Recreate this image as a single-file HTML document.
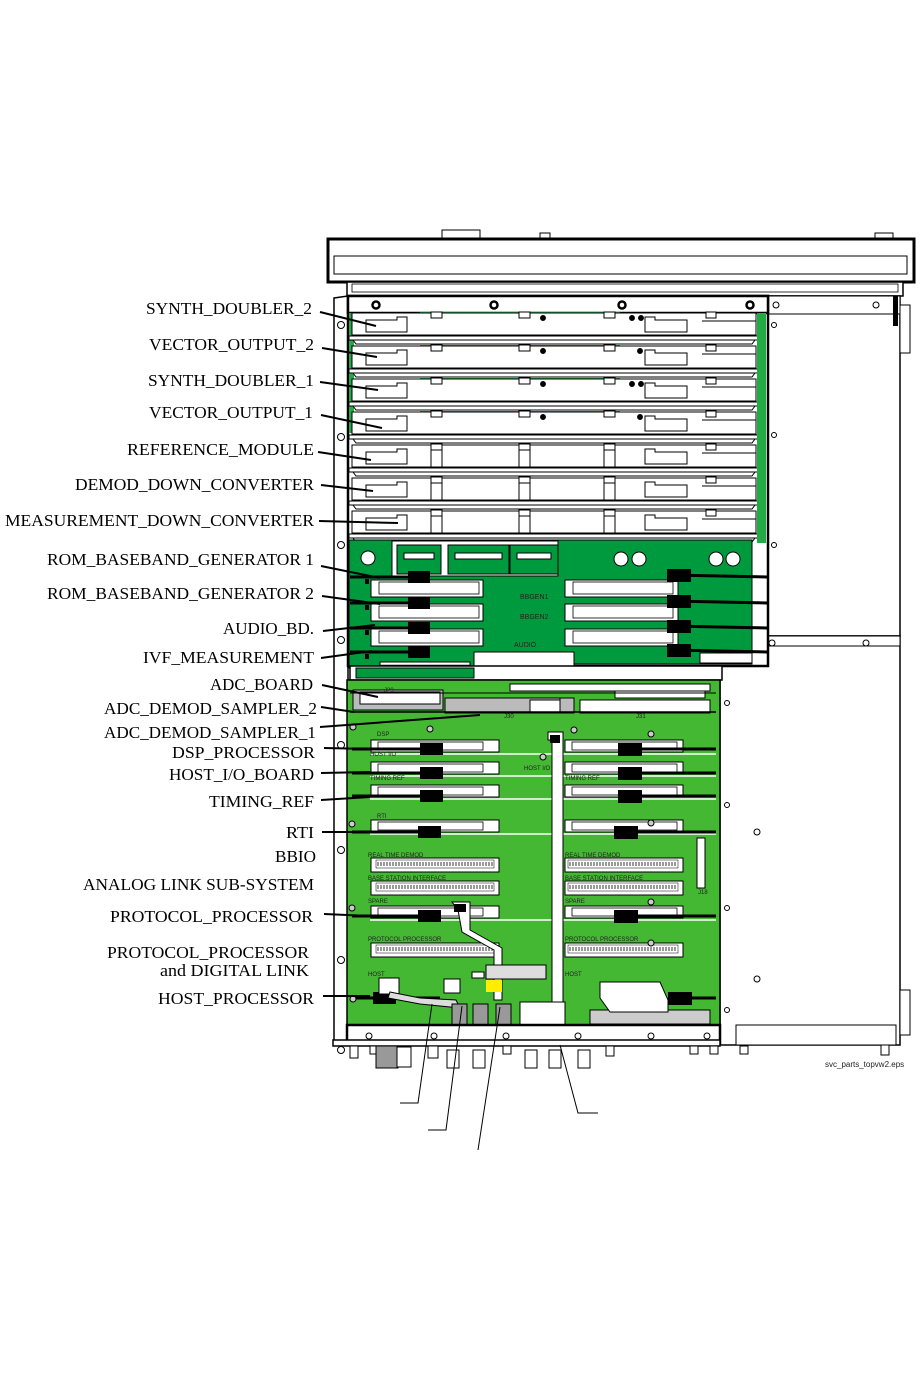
<!DOCTYPE html>
<html><head><meta charset="utf-8"><style>
html,body{margin:0;padding:0;background:#fff;width:920px;height:1380px;overflow:hidden}
svg{display:block}
text.l{font-family:"Liberation Serif",serif;font-size:17px;fill:#000}
text.s{font-family:"Liberation Sans",sans-serif;font-size:6px;fill:#222}
</style></head><body>
<svg id="sv" width="920" height="1380" viewBox="0 0 920 1380" xmlns="http://www.w3.org/2000/svg">
<g id="draw" stroke="#000" fill="none" stroke-width="1"></g>
<g id="labels">
<text class="l" x="146" y="314" textLength="166" lengthAdjust="spacingAndGlyphs">SYNTH_DOUBLER_2</text>
<text class="l" x="149" y="350" textLength="165" lengthAdjust="spacingAndGlyphs">VECTOR_OUTPUT_2</text>
<text class="l" x="148" y="386" textLength="166" lengthAdjust="spacingAndGlyphs">SYNTH_DOUBLER_1</text>
<text class="l" x="149" y="418" textLength="164" lengthAdjust="spacingAndGlyphs">VECTOR_OUTPUT_1</text>
<text class="l" x="127" y="455" textLength="187" lengthAdjust="spacingAndGlyphs">REFERENCE_MODULE</text>
<text class="l" x="75" y="490" textLength="239" lengthAdjust="spacingAndGlyphs">DEMOD_DOWN_CONVERTER</text>
<text class="l" x="5" y="526" textLength="309" lengthAdjust="spacingAndGlyphs">MEASUREMENT_DOWN_CONVERTER</text>
<text class="l" x="47" y="565" textLength="267" lengthAdjust="spacingAndGlyphs">ROM_BASEBAND_GENERATOR 1</text>
<text class="l" x="47" y="599" textLength="267" lengthAdjust="spacingAndGlyphs">ROM_BASEBAND_GENERATOR 2</text>
<text class="l" x="223" y="634" textLength="91" lengthAdjust="spacingAndGlyphs">AUDIO_BD.</text>
<text class="l" x="143" y="663" textLength="171" lengthAdjust="spacingAndGlyphs">IVF_MEASUREMENT</text>
<text class="l" x="210" y="690" textLength="103" lengthAdjust="spacingAndGlyphs">ADC_BOARD</text>
<text class="l" x="104" y="714" textLength="213" lengthAdjust="spacingAndGlyphs">ADC_DEMOD_SAMPLER_2</text>
<text class="l" x="104" y="738" textLength="212" lengthAdjust="spacingAndGlyphs">ADC_DEMOD_SAMPLER_1</text>
<text class="l" x="172" y="758" textLength="143" lengthAdjust="spacingAndGlyphs">DSP_PROCESSOR</text>
<text class="l" x="169" y="780" textLength="145" lengthAdjust="spacingAndGlyphs">HOST_I/O_BOARD</text>
<text class="l" x="209" y="807" textLength="105" lengthAdjust="spacingAndGlyphs">TIMING_REF</text>
<text class="l" x="286" y="838" textLength="28" lengthAdjust="spacingAndGlyphs">RTI</text>
<text class="l" x="275" y="862" textLength="41" lengthAdjust="spacingAndGlyphs">BBIO</text>
<text class="l" x="83" y="890" textLength="231" lengthAdjust="spacingAndGlyphs">ANALOG LINK SUB-SYSTEM</text>
<text class="l" x="110" y="922" textLength="203" lengthAdjust="spacingAndGlyphs">PROTOCOL_PROCESSOR</text>
<text class="l" x="107" y="958" textLength="202" lengthAdjust="spacingAndGlyphs">PROTOCOL_PROCESSOR</text>
<text class="l" x="160" y="976" textLength="149" lengthAdjust="spacingAndGlyphs">and DIGITAL LINK</text>
<text class="l" x="158" y="1004" textLength="156" lengthAdjust="spacingAndGlyphs">HOST_PROCESSOR</text>
<text class="s" x="825" y="1067" style="font-size:8px">svc_parts_topvw2.eps</text>
<text class="s" x="520" y="599" style="font-size:7px">BBGEN1</text>
<text class="s" x="520" y="619" style="font-size:7px">BBGEN2</text>
<text class="s" x="514" y="647" style="font-size:7px">AUDIO</text>
<text class="s" x="377" y="736">DSP</text>
<text class="s" x="370" y="756">HOST I/O</text>
<text class="s" x="524" y="770">HOST I/O</text>
<text class="s" x="370" y="780">TIMING REF</text>
<text class="s" x="565" y="780">TIMING REF</text>
<text class="s" x="377" y="818">RTI</text>
<text class="s" x="368" y="857">REAL TIME DEMOD</text>
<text class="s" x="565" y="857">REAL TIME DEMOD</text>
<text class="s" x="368" y="880">BASE STATION INTERFACE</text>
<text class="s" x="565" y="880">BASE STATION INTERFACE</text>
<text class="s" x="368" y="903">SPARE</text>
<text class="s" x="565" y="903">SPARE</text>
<text class="s" x="368" y="941">PROTOCOL PROCESSOR</text>
<text class="s" x="565" y="941">PROTOCOL PROCESSOR</text>
<text class="s" x="368" y="976">HOST</text>
<text class="s" x="565" y="976">HOST</text>
<text class="s" x="384" y="692">J29</text>
<text class="s" x="504" y="718">J30</text>
<text class="s" x="636" y="718">J31</text>
<text class="s" x="698" y="894">J18</text>
</g>
</svg>
<script>
var g=document.getElementById('draw'),NS='http://www.w3.org/2000/svg';
function el(t,a){var e=document.createElementNS(NS,t);for(var k in a)e.setAttribute(k,a[k]);g.appendChild(e);return e;}
function R(x,y,w,h,f,sw,s){return el('rect',{x:x,y:y,width:w,height:h,fill:f||'none','stroke-width':sw==null?1:sw,stroke:s||'#000'});}
function L(x1,y1,x2,y2,sw,s){return el('line',{x1:x1,y1:y1,x2:x2,y2:y2,'stroke-width':sw||1.5,stroke:s||'#000'});}
function C(x,y,r,f,sw){return el('circle',{cx:x,cy:y,r:r,fill:f||'#fff','stroke-width':sw||1.5});}
function P(d,f,sw){return el('path',{d:d,fill:f||'none','stroke-width':sw||1});}
R(442,230,38,8,'#fff');R(540,233,10,5,'#fff');R(875,233,18,5,'#fff');
R(328,239,586,43,'#fff',3);R(334,256,573,18,'#fff',1);
R(347,282,556,14,'#fff',1.5);R(352,284,546,8,'#fff',0.8);
P('M334,298 L348,296 L348,1043 L334,1043 Z','#fff',1.5);
[325,437,545,640,745,850,960,1050].forEach(function(y){C(341,y,3.5,'#fff',1);});
R(768,296,132,340,'#fff',1.5);R(768,296,132,18,'#fff',1);
C(776,305,3,'#fff',1);C(876,305,3,'#fff',1);
[325,435,545,655].forEach(function(y){C(774,y,2.5,'#fff',1);});
R(893,296,5,30,'#000',0);R(900,305,10,48,'#fff',1);
R(720,636,180,409,'#fff',1.5);R(720,636,180,10,'#fff',1);
C(772,643,3,'#fff',1);C(866,643,3,'#fff',1);
[703,805,908,1010].forEach(function(y){C(727,y,2.5,'#fff',1);});
C(757,832,3,'#fff',1);C(757,979,3,'#fff',1);
R(736,1025,160,20,'#fff',1);R(900,990,10,45,'#fff',1);R(881,1045,8,10,'#fff',1);
R(348,296,420,370,'#fff',2.5);
R(348,296,420,17,'#fff',2.5);
[376,494,622,750].forEach(function(x){C(x,305,3.5,'#fff',2.5);});
R(349,313,5,120,'#22aa44',0);
var tops=[313,346,379,412,445,478,511];
tops.forEach(function(t,i){
 if(i<4){R(420,t-1,200,2,'#22aa44',0);}
 R(352,t,404,22,'#fff',1);
 R(349,t+23,410,4,'#fff',1);
 P('M353,'+(t+27)+' L755,'+(t+27)+' L752,'+(t+31)+' L356,'+(t+31)+' Z','#fff',1);
 P('M366,'+(t+7)+' L397,'+(t+7)+' L397,'+(t+4)+' L407,'+(t+4)+' L407,'+(t+19)+' L366,'+(t+19)+' Z','#fff',1);
 P('M645,'+(t+19)+' L645,'+(t+4)+' L655,'+(t+4)+' L655,'+(t+7)+' L687,'+(t+7)+' L687,'+(t+19)+' Z','#fff',1);
 [437,525,610].forEach(function(x){R(x-6,t-1,11,6,'#fff',1);});
 R(706,t-1,10,6,'#fff',1);
 L(702,t+8,756,t+8,1);
 if(i<4){C(543,t+5,2.2,'#000',0); if(i%2==0){C(632,t+5,2.2,'#000',0);C(641,t+5,2.2,'#000',0);}else{C(640,t+5,2.2,'#000',0);}}
 if(i>=4){[437,525,610].forEach(function(x){L(x-6,t+5,x-6,t+22,1);L(x+5,t+5,x+5,t+22,1);});}
});
R(757,313,9,230,'#22aa44',0);
P('M349,540 L752,540 L752,664 L568,664 L568,668 L470,668 L470,662 L380,662 L380,668 L349,668 Z','#009a3e',1);
R(392,541,166,35,'#fff',1);
[[396,41],[447,58],[509,45]].forEach(function(a){R(a[0]+1,545,a[1]+3,29,'#009a3e',1);R(a[0]+8,553,a[1]-11,6,'#fff',1);});
C(368,558,7,'#fff',1);C(621,559,7,'#fff',1);C(639,559,7,'#fff',1);C(716,559,7,'#fff',1);C(733,559,7,'#fff',1);
[[371,580],[371,604],[371,629]].forEach(function(p){R(p[0],p[1],112,17,'#fff',1);R(p[0]+8,p[1]+2,100,12,'#fff',0.8);});
[[532,580],[532,604],[532,629]].forEach(function(p){R(p[0]+33,p[1],113,17,'#fff',1);R(p[0]+41,p[1]+2,100,12,'#fff',0.8);});
[577,603,628,652].forEach(function(y,i){
 L(350,y,430,y,3);R(408,y-6,22,12,'#000',0);
 L(670,y-2,767,y,3);R(667,y-8,24,13,'#000',0);
 R(365,y+2,4,5,'#000',0);
});
R(474,652,100,14,'#fff',1);R(700,653,52,10,'#fff',1);
C(464,673,3,'#fff',2);C(628,673,3,'#fff',2);
R(350,666,372,14,'#fff',1.5);R(356,668,118,10,'#009a3e',1);
R(347,680,373,345,'#44b833',1.5);
R(353,690,90,20,'#bbb',1);R(360,692,80,12,'#fff',1);
R(445,698,115,15,'#bbb',1);R(530,700,30,12,'#fff',1);
R(560,698,14,15,'#bbb',1);R(580,700,130,13,'#fff',1);
R(615,686,90,12,'#fff',1);R(510,684,200,7,'#fff',1);
L(350,712,716,712,1.5);L(350,693,716,693,1);
var rows=[[740,1],[762,1],[785,1],[820,1],[906,1]];
rows.forEach(function(r){var y=r[0];
 R(371,y,128,12,'#fff',1);R(378,y+2,105,8,'#fff',0.8);
 R(565,y,118,12,'#fff',1);R(572,y+2,105,8,'#fff',0.8);
 L(370,y+14,716,y+14,1.5,'#fff');
});
[[749,420,618],[773,420,618],[796,420,618],[832,418,614],[916,418,614],[998,373,668]].forEach(function(a){
 var y=a[0];L(352,y,440,y,3);R(a[1],y-6,23,12,'#000',0);
 L(a[2],y,716,y,3);R(a[2],y-6,24,13,'#000',0);
});
[860,883,945].forEach(function(y){
 R(371,y-2,128,14,'#fff',1);R(376,y,118,8,'#fff',0.5);
 for(var x=378;x<493;x+=3)L(x,y+2,x,y+6,0.8);
 R(565,y-2,118,14,'#fff',1);R(568,y,110,8,'#fff',0.5);
 for(var x=570;x<676;x+=3)L(x,y+2,x,y+6,0.8);
});
R(697,838,8,50,'#fff',1);
[[353,727],[430,729],[574,730],[543,757],[651,734],[352,824],[651,823],[352,908],[651,902],[651,943],[353,999]].forEach(function(p){C(p[0],p[1],3,'#ccc',1);});
P('M548,732 L563,732 L563,1028 L552,1028 L552,740 L548,740 Z','#fff',1);
R(550,735,10,8,'#000',0);
P('M452,902 L470,902 L470,930 L502,948 L502,1000 L494,1000 L494,950 L462,932 L458,910 Z','#fff',1);
R(454,904,12,8,'#000',0);
R(486,965,60,14,'#ddd',1);R(472,972,12,6,'#fff',1);
R(486,980,16,12,'#ffee00',0);
R(379,978,20,16,'#fff',1);R(444,979,16,14,'#fff',1);
P('M390,992 L420,998 L456,1000 L460,1008 L420,1004 L388,998 Z','#ddd',1);
R(590,1010,120,14,'#ccc',1);P('M600,982 L660,982 L668,1000 L668,1012 L610,1012 L600,998 Z','#fff',1);
R(452,1004,15,22,'#999',1);R(473,1004,15,22,'#999',1);R(496,1004,15,22,'#999',1);
R(520,1002,45,24,'#fff',1);
R(347,1025,373,19,'#fff',2.5);
[369,434,506,578,651,707].forEach(function(x){C(x,1036,3,'#fff',1);});
R(333,1040,387,6,'#fff',1.5);
[[350,1046,8,12],[370,1046,14,8],[376,1046,22,22],[397,1047,14,20],[428,1046,10,12],[447,1050,12,18],[473,1050,12,18],[503,1046,8,8],[525,1050,12,18],[549,1050,12,18],[578,1050,12,18],[606,1046,8,10],[690,1046,8,8],[710,1046,8,8],[740,1046,8,8]].forEach(function(a,i){R(a[0],a[1],a[2],a[3],i==2?'#999':'#fff',1);});
P('M400,1103 L418,1103 L432,1004',null,1);
P('M428,1130 L446,1130 L462,1006',null,1);
P('M478,1150 L500,1007',null,1);
P('M598,1113 L578,1113 L560,1045',null,1);
[[320,312,376,326],[322,348,377,357],[320,382,378,390],[321,415,382,428],[318,452,371,460],[321,485,373,491],[319,521,398,523],[321,566,380,578],[322,596,380,604],[323,631,375,625],[321,658,372,651],[322,685,378,697],[321,707,354,712],[320,727,480,715],[324,748,370,749],[321,773,370,772],[321,800,370,797],[322,832,370,832],[324,914,370,916],[323,996,370,996]].forEach(function(a){L(a[0],a[1],a[2],a[3],2);});
</script>
</body></html>
